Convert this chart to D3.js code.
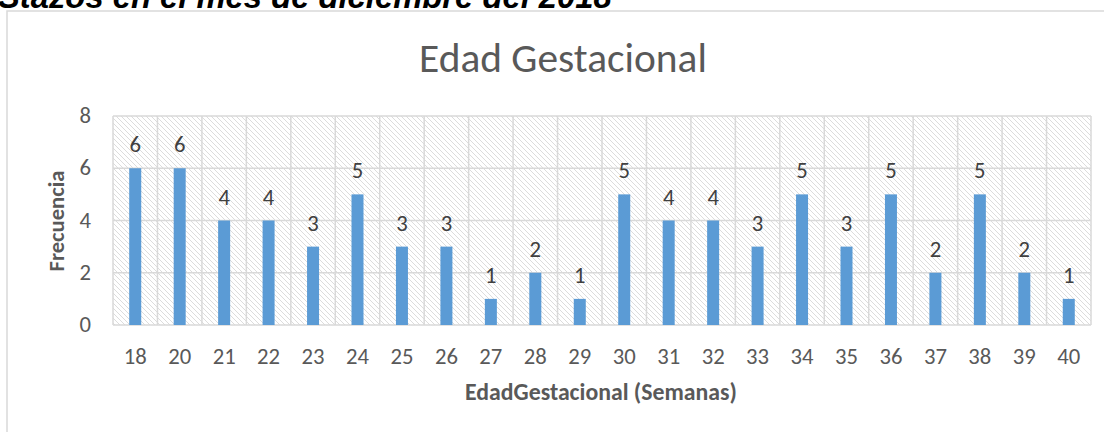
<!DOCTYPE html>
<html><head><meta charset="utf-8">
<script src="https://cdn.jsdelivr.net/npm/d3@7"></script>
<style>body{margin:0;background:#fff;}svg{display:block;}</style>
</head><body>
<svg id="c" width="1104" height="432"></svg>
<script>
const categories = ["18","20","21","22","23","24","25","26","27","28","29","30","31","32","33","34","35","36","37","38","39","40"];
const values = [6,6,4,4,3,5,3,3,1,2,1,5,4,4,3,5,3,5,2,5,2,1];
const yTicks = [0,2,4,6,8];
const chartTitle = "Edad Gestacional";
const xTitle = "EdadGestacional (Semanas)";
const yTitle = "Frecuencia";
const pageText = "Stazos en el mes de diciembre del 2018";

const svg = d3.select("#c");
const font = "Carlito, Calibri, Lato, 'Open Sans', sans-serif";
const m = {l:113, r:1091, t:116, b:325};

function fit(sel, target){
  const w = sel.node().getComputedTextLength();
  const fs = parseFloat(sel.attr("font-size"));
  if (w > 0) sel.attr("font-size", fs * target / w);
  return sel;
}
// number font size: "18" should be ~23px wide
const probe = svg.append("text").attr("font-family",font).attr("font-size",20).text("18");
const pw = probe.node().getComputedTextLength();
const numFs = pw > 0 ? 20 * 23 / pw : 22;
probe.remove();

// hatch pattern
const defs = svg.append("defs");
const pat = defs.append("pattern").attr("id","hatch").attr("patternUnits","userSpaceOnUse")
  .attr("width",5).attr("height",5);
pat.append("rect").attr("width",5).attr("height",5).attr("fill","#fff");
pat.append("path").attr("d","M-1,-1 L6,6 M-1,4 L1,6 M4,-1 L6,1").attr("stroke","#dcdcdc").attr("stroke-width",1);

// page text cut off at top
const pt = svg.append("text").attr("x",-2).attr("y",8).text(pageText)
  .attr("font-family","'Liberation Sans', Arial, sans-serif").attr("font-weight","bold")
  .attr("font-style","italic").attr("font-size",30).attr("fill","#000");
fit(pt, 614);

// chart border
svg.append("rect").attr("x",7).attr("y",11).attr("width",1110).attr("height",440)
  .attr("fill","#fff").attr("stroke","#d9d9d9").attr("stroke-width",1.5);

const x = d3.scaleBand().domain(categories).range([m.l,m.r]).paddingInner(0).paddingOuter(0);
const y = d3.scaleLinear().domain([0,8]).range([m.b,m.t]);

svg.append("rect").attr("x",m.l).attr("y",m.t).attr("width",m.r-m.l).attr("height",m.b-m.t).attr("fill","url(#hatch)");

// gridlines
const g = svg.append("g");
g.selectAll("line.h").data(yTicks).join("line").attr("class","h")
  .attr("x1",m.l).attr("x2",m.r).attr("y1",d=>y(d)).attr("y2",d=>y(d))
  .attr("stroke","#d9d9d9").attr("stroke-width",1.5);
const vb = categories.map(c=>x(c)).concat([m.r]);
g.selectAll("line.v").data(vb).join("line").attr("class","v")
  .attr("x1",d=>d).attr("x2",d=>d).attr("y1",m.t).attr("y2",m.b)
  .attr("stroke","#d9d9d9").attr("stroke-width",1.5);

// bars
const bw = 12;
svg.selectAll("rect.bar").data(values).join("rect").attr("class","bar")
  .attr("x",(d,i)=>x(categories[i])+x.bandwidth()/2-bw/2)
  .attr("width",bw)
  .attr("y",d=>y(d)).attr("height",d=>y(0)-y(d))
  .attr("fill","#5b9bd5");

// data labels
svg.selectAll("text.lbl").data(values).join("text").attr("class","lbl")
  .attr("x",(d,i)=>x(categories[i])+x.bandwidth()/2)
  .attr("y",d=>y(d)-16)
  .attr("text-anchor","middle").attr("font-family",font).attr("font-size",numFs)
  .attr("fill","#404040").text(d=>d);

// y tick labels
svg.selectAll("text.yt").data(yTicks).join("text").attr("class","yt")
  .attr("x",91).attr("y",d=>y(d)+7).attr("text-anchor","end")
  .attr("font-family",font).attr("font-size",numFs).attr("fill","#595959").text(d=>d);

// x tick labels
svg.selectAll("text.xt").data(categories).join("text").attr("class","xt")
  .attr("x",d=>x(d)+x.bandwidth()/2).attr("y",364).attr("text-anchor","middle")
  .attr("font-family",font).attr("font-size",numFs).attr("fill","#595959").text(d=>d);

// titles
const t1 = svg.append("text").attr("x",563).attr("y",72).attr("text-anchor","middle")
  .attr("font-family",font).attr("font-size",32).attr("fill","#595959").text(chartTitle);
fit(t1, 288);
const t2 = svg.append("text").attr("x",601).attr("y",400).attr("text-anchor","middle")
  .attr("font-family",font).attr("font-size",16).attr("font-weight","bold").attr("fill","#595959").text(xTitle);
fit(t2, 272);
const t3 = svg.append("text").attr("transform","translate(64,221) rotate(-90)").attr("text-anchor","middle")
  .attr("font-family",font).attr("font-size",16).attr("font-weight","bold").attr("fill","#595959").text(yTitle);
fit(t3, 101);
</script>
</body></html>
